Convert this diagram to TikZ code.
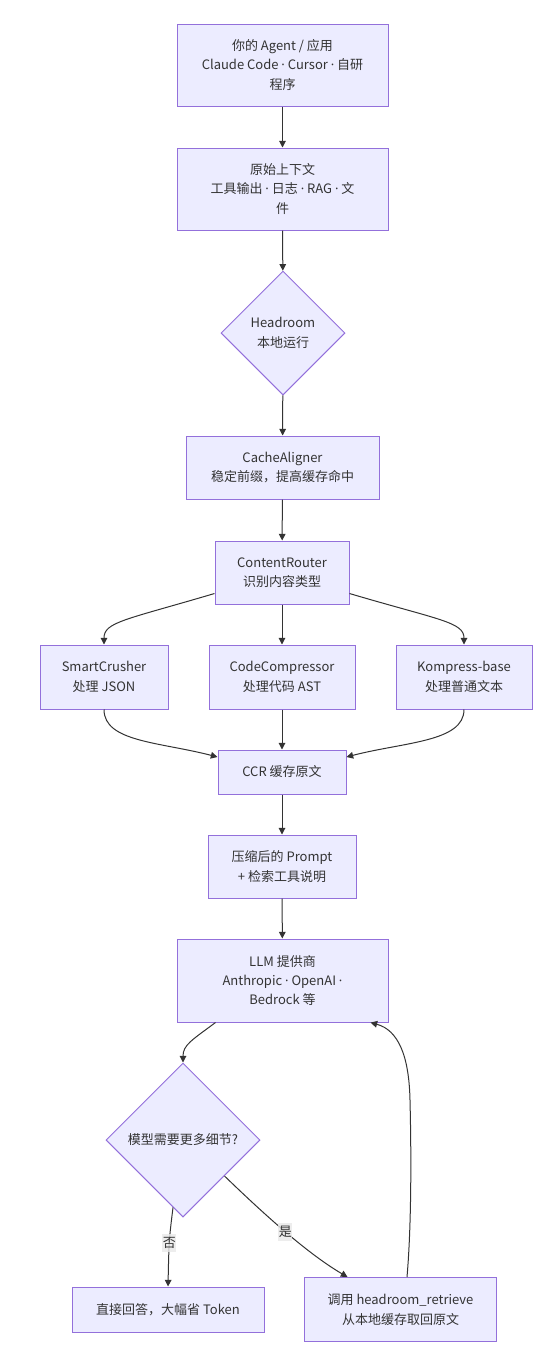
\documentclass[tikz,border=0pt]{standalone}
\usepackage{fontspec}
\setmainfont{Noto Sans CJK SC}
\newfontfamily\latinfont{Noto Sans}
\usetikzlibrary{shapes.geometric,arrows.meta,calc}
\definecolor{nodefill}{HTML}{ECECFF}
\definecolor{nodeline}{HTML}{9370DB}
\definecolor{ink}{HTML}{333333}
\definecolor{lblbg}{HTML}{E8E8E8}
% narrow separator dot
\newcommand{\sepdot}{{\latinfont ·}}
\begin{document}
\begin{tikzpicture}[x=0.75pt,y=-0.75pt,
  every node/.style={font=\fontsize{9.75pt}{14.6pt}\selectfont, text=ink},
  box/.style={draw=nodeline, fill=nodefill, line width=0.75pt, align=center,
    inner sep=0pt},
  decision/.style={diamond, aspect=1, draw=nodeline, fill=nodefill,
    line width=0.75pt, align=center, inner sep=0pt},
  arr/.style={draw=ink, line width=0.75pt, -{Triangle[length=5pt,width=5pt]}},
  lbl/.style={fill=lblbg, fill opacity=0.8, text opacity=1, inner xsep=0.5pt,
    inner ysep=2.5pt}]
\useasboundingbox (0,0) rectangle (559,1365);

% main pipeline
\node[box, minimum width=211*0.75pt, minimum height=82*0.75pt] (app) at (282.5,65)
  {你的 Agent / 应用\\Claude Code \sepdot{} Cursor \sepdot{} 自研\\程序};
\node[box, minimum width=211*0.75pt, minimum height=82*0.75pt] (ctx) at (282.5,189)
  {原始上下文\\工具输出 \sepdot{} 日志 \sepdot{} RAG \sepdot{} 文\\件};
\node[decision, minimum width=124*0.75pt, minimum height=124*0.75pt] (hr) at (283,333)
  {Headroom\\本地运行};
\node[box, minimum width=193*0.75pt, minimum height=63*0.75pt] (ca) at (282.5,467.5)
  {CacheAligner\\稳定前缀，提高缓存命中};
\node[box, minimum width=134*0.75pt, minimum height=63*0.75pt] (cr) at (282,572.5)
  {ContentRouter\\识别内容类型};

% content-specific compressors
\node[box, minimum width=128*0.75pt, minimum height=64*0.75pt] (sc) at (104,677)
  {SmartCrusher\\处理 JSON};
\node[box, minimum width=146*0.75pt, minimum height=64*0.75pt] (cc) at (282,677)
  {CodeCompressor\\处理代码 AST};
\node[box, minimum width=136*0.75pt, minimum height=64*0.75pt] (kb) at (464,677)
  {Kompress-base\\处理普通文本};

\node[box, minimum width=128*0.75pt, minimum height=44*0.75pt] (ccr) at (282,772)
  {CCR 缓存原文};
\node[box, minimum width=148*0.75pt, minimum height=63*0.75pt] (cp) at (282,866.5)
  {压缩后的 Prompt\\+ 检索工具说明};
\node[box, minimum width=211*0.75pt, minimum height=83*0.75pt] (llm) at (282.5,980.5)
  {LLM 提供商\\Anthropic \sepdot{} OpenAI \sepdot\\Bedrock 等};

% retrieval loop
\node[decision, minimum width=154*0.75pt, minimum height=154*0.75pt] (q) at (183,1140)
  {模型需要更多细节?};
\node[box, minimum width=192*0.75pt, minimum height=45*0.75pt] (da) at (168,1309.5)
  {直接回答，大幅省 Token};
\node[box, minimum width=192*0.75pt, minimum height=64*0.75pt] (ret) at (400.5,1309.5)
  {调用 headroom\_retrieve\\从本地缓存取回原文};

% connectors
\draw[arr] (app) -- (ctx);
\draw[arr] (ctx) -- (hr);
\draw[arr] (hr) -- (ca);
\draw[arr] (ca) -- (cr);
\draw[arr] (cr) -- (cc);
\draw[arr] ($(cr.south west)+(0,-11)$) .. controls (125,620) and (104,622) .. (sc.north);
\draw[arr] ($(cr.south east)+(0,-11)$) .. controls (439,620) and (464,622) .. (kb.north);
\draw[arr] (cc) -- (ccr);
\draw[arr] (sc.south) .. controls (104,742) and (160,742) .. ($(ccr.west)+(0,-15)$);
\draw[arr] (kb.south) .. controls (464,742) and (404,742) .. ($(ccr.east)+(0,-15)$);
\draw[arr] (ccr) -- (cp);
\draw[arr] (cp) -- (llm);
\draw[arr] ($(llm.south)+(-67,0)$) .. controls (192,1040) and (183,1045) .. (q.north);
\draw[arr] ($(q.south)+(-10,-10)$) .. controls (169,1240) .. (da.north)
  node[lbl, pos=0.52] (no) {否};
\draw[arr] ($(q.east)+(-36,36)$) .. controls (270,1220) and (310,1255) .. ($(ret.north)+(-53,0)$)
  node[lbl, pos=0.47] (yes) {是};
\draw[arr] ($(ret.north)+(6.5,0)$) .. controls (412,1220) and (411,1140) .. (410,1100)
  .. controls (409,1055) and (398,1030) .. ($(llm.south)+(88,0)$);
\end{tikzpicture}
\end{document}
